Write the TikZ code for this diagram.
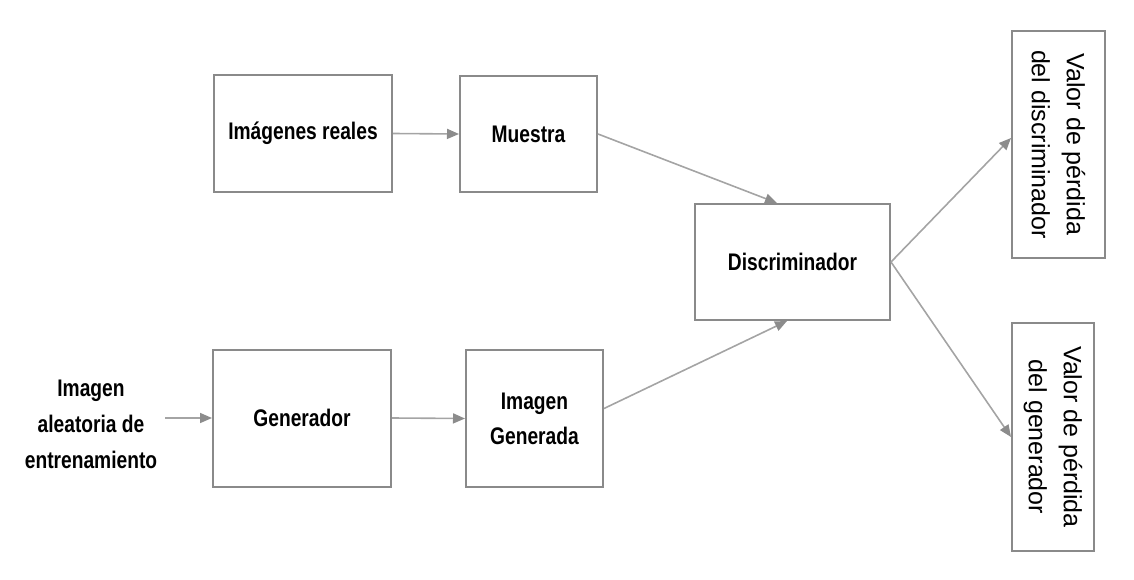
\documentclass[tikz,border=0pt]{standalone}
\usepackage{fontspec}
\setmainfont{Liberation Sans}
\newfontfamily\labfont{Liberation Sans}[FakeStretch=0.8]
\usetikzlibrary{arrows.meta,calc}
\definecolor{boxgray}{HTML}{8A8A8A}
\definecolor{linegray}{HTML}{A4A4A4}
\definecolor{tipgray}{HTML}{8C8C8C}

\begin{document}
\begin{tikzpicture}[x=1pt,y=-1pt,
  box/.style={draw=boxgray, line width=2pt, fill=white, inner sep=0pt,
    align=center, font=\labfont\bfseries\fontsize{24}{35}\selectfont},
  lossbox/.style={draw=boxgray, line width=2pt, fill=white, inner sep=0pt,
    align=center, rotate=-90, font=\fontsize{25}{35}\selectfont},
  plain/.style={inner sep=0pt, align=center,
    font=\labfont\bfseries\fontsize{24}{36}\selectfont},
  flow/.style={draw=linegray, line width=1.6pt,
    -{Triangle[length=12pt,width=10pt,color=tipgray]}}
]
\useasboundingbox (0,0) rectangle (1134,580);

% real-image branch
\node[box, minimum width=178pt, minimum height=117pt] (real) at (303,133.5) {Imágenes reales};
\node[box, minimum width=137pt, minimum height=116pt] (mu) at (528.5,134) {Muestra};

% discriminator
\node[box, minimum width=195pt, minimum height=116pt] (disc) at (792.5,262) {Discriminador};

% generator branch
\node[plain] (src) at (91,424) {Imagen\\aleatoria de\\entrenamiento};
\node[box, minimum width=178pt, minimum height=137pt] (gen) at (302,418) {Generador};
\node[box, minimum width=137pt, minimum height=137pt] (imgg) at (534.5,418.5) {Imagen\\Generada};

% loss outputs (vertical text)
\node[lossbox, minimum width=227pt, minimum height=93pt] (dloss) at (1058.5,144.5) {Valor de pérdida\\del discriminador};
\node[lossbox, minimum width=228pt, minimum height=82pt] (gloss) at (1053,437) {Valor de pérdida\\del generador};

% connectors
\draw[flow] (real.east) -- (mu.west);
\draw[flow] (mu.east) -- ($(disc.north)+(-15.5,0)$);
\draw[flow] ([xshift=8pt]src.east |- gen.west) -- (gen.west);
\draw[flow] (gen.east) -- (imgg.west);
\draw[flow] ($(imgg.east)+(0,-10)$) -- ($(disc.south)+(-5.5,0)$);
\draw[flow] (disc.east) -- ($(dloss.south)+(0,-6.5)$);
\draw[flow] (disc.east) -- (gloss.south);
\end{tikzpicture}
\end{document}
